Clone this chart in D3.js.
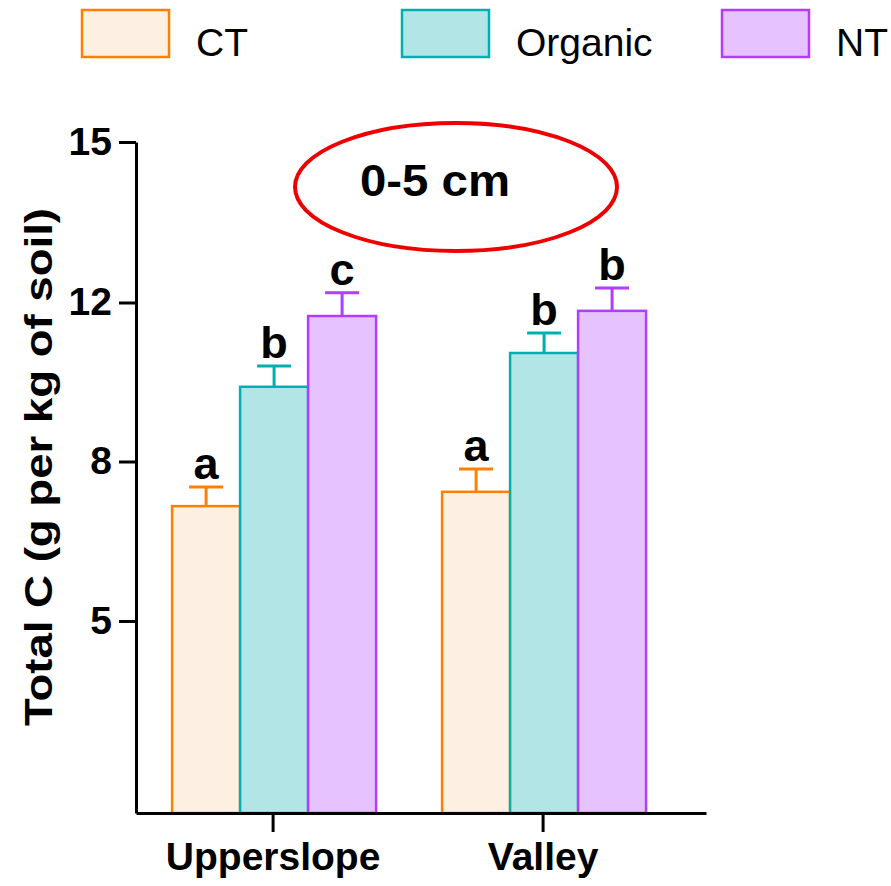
<!DOCTYPE html>
<html>
<head>
<meta charset="utf-8">
<script src="https://cdn.jsdelivr.net/npm/d3@7"></script>
<style>
  html, body { margin: 0; padding: 0; background: #fff; }
  svg { display: block; font-family: Arial, "Liberation Sans", sans-serif; }
</style>
</head>
<body>
<svg id="chart"></svg>
<script>
// Total C by slope position and tillage system, 0-5 cm depth

const GROUPS = ['Upperslope', 'Valley'];
const SERIES = ['CT', 'Organic', 'NT'];

// mean values (g per kg of soil), one array per series, in GROUPS order
const CT_VALUES      = [7.16, 7.43];
const ORGANIC_VALUES = [9.88, 10.73];
const NT_VALUES      = [11.66, 11.79];

// error bar half-widths
const CT_ERR      = [0.36, 0.43];
const ORGANIC_ERR = [0.52, 0.50];
const NT_ERR      = [0.52, 0.48];

// significance letters
const CT_LETTERS      = ['a', 'a'];
const ORGANIC_LETTERS = ['b', 'b'];
const NT_LETTERS      = ['c', 'b'];

// y-axis tick labels (equally spaced on the original axis)
const Y_TICKS = [5, 8, 12, 15];
const Y_MIN = 1.4;

const STYLE = {
  CT:      { stroke: '#ff8000', fill: '#fdf0e3' },
  Organic: { stroke: '#00b0b0', fill: '#b2e6e6' },
  NT:      { stroke: '#b23cff', fill: '#e6c2ff' },
};

const W = 891, H = 886;
const svg = d3.select('#chart').attr('width', W).attr('height', H);

// ── Scales ────────────────────────────────────────────────────────────────
const x = d3.scaleBand().domain(GROUPS).range([136, 706])
  .paddingInner(0).paddingOuter(0.0556).align(0.07);
const xs = d3.scaleBand().domain(SERIES)
  .range([x.bandwidth() / 2 - 101, x.bandwidth() / 2 + 103]).padding(0);

// the printed axis spaces 5, 8, 12, 15 evenly, so map it piecewise
const y = d3.scaleLinear()
  .domain([Y_MIN, ...Y_TICKS])
  .range([813, 621, 461.5, 302.5, 142]);

const rows = [];
SERIES.forEach((s, si) => {
  const vals = [CT_VALUES, ORGANIC_VALUES, NT_VALUES][si];
  const errs = [CT_ERR, ORGANIC_ERR, NT_ERR][si];
  const lets = [CT_LETTERS, ORGANIC_LETTERS, NT_LETTERS][si];
  GROUPS.forEach((g, gi) => {
    rows.push({ group: g, series: s, value: vals[gi], err: errs[gi], letter: lets[gi] });
  });
});

// ── Bars ──────────────────────────────────────────────────────────────────
const barsG = svg.append('g');
barsG.selectAll('rect.bar').data(rows).join('rect')
  .attr('class', 'bar')
  .attr('x', d => x(d.group) + xs(d.series))
  .attr('y', d => y(d.value))
  .attr('width', xs.bandwidth())
  .attr('height', d => y(Y_MIN) - y(d.value))
  .attr('fill', d => STYLE[d.series].fill)
  .attr('stroke', d => STYLE[d.series].stroke)
  .attr('stroke-width', 2.5);

// error bars (upper only) + letters
const errG = svg.append('g');
rows.forEach(d => {
  const cx = x(d.group) + xs(d.series) + xs.bandwidth() / 2;
  const col = STYLE[d.series].stroke;
  errG.append('line')
    .attr('x1', cx).attr('x2', cx)
    .attr('y1', y(d.value)).attr('y2', y(d.value + d.err))
    .attr('stroke', col).attr('stroke-width', 3);
  errG.append('line')
    .attr('x1', cx - 17).attr('x2', cx + 17)
    .attr('y1', y(d.value + d.err)).attr('y2', y(d.value + d.err))
    .attr('stroke', col).attr('stroke-width', 3);
  errG.append('text')
    .attr('x', cx).attr('y', y(d.value + d.err) - 8)
    .attr('text-anchor', 'middle')
    .attr('font-size', 45).attr('font-weight', 'bold')
    .text(d.letter);
});

// ── Axes ──────────────────────────────────────────────────────────────────
const yAxis = svg.append('g')
  .attr('transform', 'translate(136,0)')
  .call(d3.axisLeft(y).tickValues(Y_TICKS).tickSize(17).tickSizeOuter(0).tickPadding(7));
yAxis.selectAll('path, line').attr('stroke', '#000').attr('stroke-width', 3);
yAxis.selectAll('text').attr('font-size', 39).attr('font-weight', 'bold')
  .attr('font-family', 'Arial, "Liberation Sans", sans-serif').attr('fill', '#000');

const xAxis = svg.append('g')
  .attr('transform', `translate(0,${y(Y_MIN)})`)
  .call(d3.axisBottom(x).tickSize(19).tickSizeOuter(0).tickPadding(10));
xAxis.selectAll('path, line').attr('stroke', '#000').attr('stroke-width', 3);
xAxis.selectAll('text').attr('font-size', 39).attr('font-weight', 'bold')
  .attr('font-family', 'Arial, "Liberation Sans", sans-serif').attr('fill', '#000');

// y-axis title
svg.append('text')
  .attr('transform', 'translate(52,467) rotate(-90)')
  .attr('text-anchor', 'middle')
  .attr('font-size', 38).attr('font-weight', 'bold')
  .attr('textLength', 518).attr('lengthAdjust', 'spacingAndGlyphs')
  .text('Total C (g per kg of soil)');

// ── Depth label in red ellipse ────────────────────────────────────────────
svg.append('ellipse')
  .attr('cx', 456).attr('cy', 187).attr('rx', 161).attr('ry', 64)
  .attr('fill', 'none').attr('stroke', '#ee0000').attr('stroke-width', 4);
svg.append('text')
  .attr('x', 435).attr('y', 196)
  .attr('text-anchor', 'middle')
  .attr('font-size', 44).attr('font-weight', 'bold')
  .attr('textLength', 150).attr('lengthAdjust', 'spacingAndGlyphs')
  .text('0-5 cm');

// ── Legend ────────────────────────────────────────────────────────────────
const legendX = [82, 402, 722];
const legG = svg.append('g');
SERIES.forEach((s, i) => {
  legG.append('rect')
    .attr('x', legendX[i]).attr('y', 10).attr('width', 87).attr('height', 47)
    .attr('fill', STYLE[s].fill).attr('stroke', STYLE[s].stroke).attr('stroke-width', 2.5);
  legG.append('text')
    .attr('x', legendX[i] + 114).attr('y', 56)
    .attr('font-size', 39)
    .text(s);
});
</script>
</body>
</html>
